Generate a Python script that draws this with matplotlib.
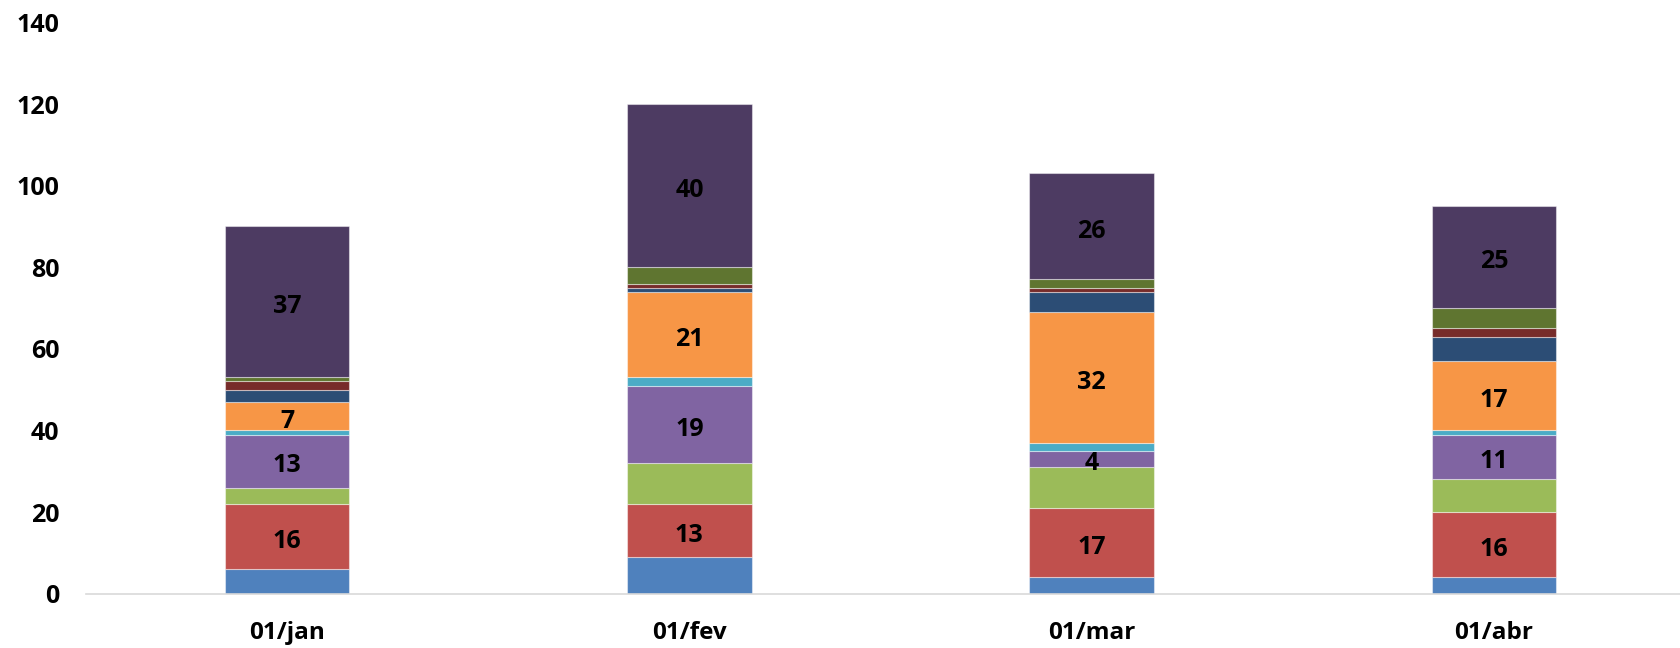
import matplotlib
matplotlib.use("Agg")
import matplotlib.pyplot as plt
import numpy as np

plt.rcParams['font.family'] = ['Open Sans', 'DejaVu Sans']

categories = ["01/jan", "01/fev", "01/mar", "01/abr"]
s1 = [6, 9, 4, 4]
s2 = [16, 13, 17, 16]
s3 = [4, 10, 10, 8]
s4 = [13, 19, 4, 11]
s5 = [1, 2, 2, 1]
s6 = [7, 21, 32, 17]
s7 = [3, 1, 5, 6]
s8 = [2, 1, 1, 2]
s9 = [1, 4, 2, 5]
s10 = [37, 40, 26, 25]

series = [s1, s2, s3, s4, s5, s6, s7, s8, s9, s10]
colors = ["#4F81BD", "#C0504D", "#9BBB59", "#8064A2", "#4BACC6",
          "#F79646", "#2C4D75", "#772C2A", "#5F7530", "#4D3B62"]
labeled = {1, 3, 5, 9}

fig = plt.figure(figsize=(16.8, 6.48), dpi=100)
ax = fig.add_axes([86/1680, 54.4/648, (1695-86)/1680, (625.5-54.4)/648])

x = np.arange(len(categories))
bottom = np.zeros(len(categories))
for i, (vals, c) in enumerate(zip(series, colors)):
    vals = np.array(vals, dtype=float)
    ax.bar(x, vals, 0.31, bottom=bottom, color=c,
           edgecolor=(1, 1, 1, 0.45), linewidth=0.8, zorder=2)
    if i in labeled:
        for xi, v, b in zip(x, vals, bottom):
            ax.annotate(f"{int(v)}", (xi, b + v / 2), xytext=(0, -3.5),
                        textcoords='offset points', ha='center', va='center',
                        fontsize=18, fontweight='bold', color='black', zorder=3)
    bottom += vals

ax.set_xlim(-0.5, 3.5)
ax.set_ylim(0, 140)
ax.set_yticks(np.arange(0, 141, 20))
ax.set_xticks(x)
ax.set_xticklabels(categories)
for lab in ax.get_yticklabels():
    lab.set_fontweight('bold')
    lab.set_fontsize(18)
for lab in ax.get_xticklabels():
    lab.set_fontweight('bold')
    lab.set_fontsize(17.5)
ax.tick_params(axis='y', length=0, pad=19)
ax.tick_params(axis='x', length=0, pad=20)
for sp in ['top', 'right', 'left']:
    ax.spines[sp].set_visible(False)
ax.spines['bottom'].set_color('#D9D9D9')
ax.spines['bottom'].set_linewidth(1.2)

fig.savefig("out.png", dpi=100)
